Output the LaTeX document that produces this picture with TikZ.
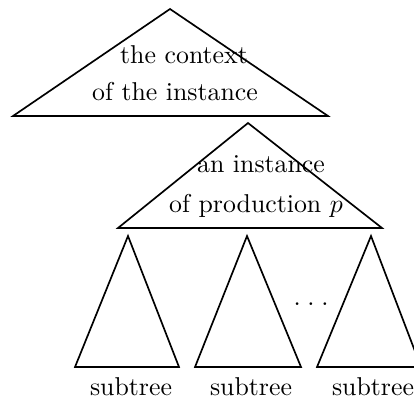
\documentclass[tikz,border=0pt]{standalone}
\usepackage{amsmath}
\usepackage{tikz}
\usetikzlibrary{calc}

\begin{document}
\begin{tikzpicture}[x=0.3875pt,y=-0.3875pt,line width=0.65pt,
    lbl/.style={anchor=base,inner sep=0pt}]
    \useasboundingbox (0,0) rectangle (414,398);
    \clip (0,0) rectangle (414,398);
    % context and production instance
    \draw (13,116) -- (170,9) -- (328,116) -- cycle;
    \draw (118,228) -- (248,123) -- (382,228) -- cycle;
    \node[lbl] (ctxa) at (184,63) {the context};
    \node[lbl] (ctxb) at (175,100) {of the instance};
    \node[lbl] (insta) at (261,172) {an instance};
    \node[lbl] (instb) at (256,212) {of production $p$};
    % subtrees
    \draw (75,367) -- (128,236) -- (179,367) -- cycle;
    \draw (195,367) -- (247,236) -- (301,367) -- cycle;
    \draw (317,367) -- (371,236) -- (421,367) -- cycle;
    \node[lbl] (dots) at (311,305) {.\hspace{2.6pt}.\hspace{2.6pt}.};
    \node[lbl] (suba) at (131,395) {subtree};
    \node[lbl] (subb) at (251,395) {subtree};
    \node[lbl] (subc) at (373,395) {subtree};
\end{tikzpicture}
\end{document}
